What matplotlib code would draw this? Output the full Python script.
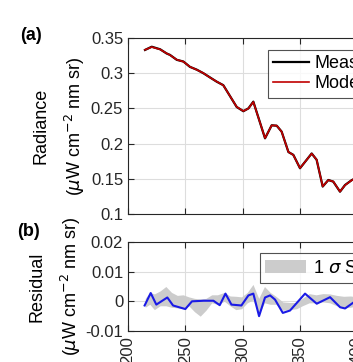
import matplotlib
matplotlib.use("Agg")
import matplotlib.pyplot as plt

plt.rcParams['font.family'] = ['Liberation Sans', 'DejaVu Sans']
plt.rcParams['mathtext.fontset'] = 'dejavusans'

# panel (a): radiance
wl_rad = [214.8, 220.7, 228.0, 233.7, 236.6, 242.5, 248.3, 254.0, 260.0, 265.7, 271.5, 277.3,
          283.1, 294.8, 300.6, 305.0, 309.3, 319.5, 325.3, 329.7, 334.0, 339.9, 344.2, 350.0,
          360.2, 364.5, 369.8, 374.7, 379.0, 384.9, 389.3, 395.0, 400.0]
measured = [0.333, 0.3376, 0.334, 0.328, 0.326, 0.319, 0.3166, 0.309, 0.305, 0.300, 0.294, 0.288,
            0.283, 0.252, 0.246, 0.250, 0.2596, 0.2075, 0.226, 0.2254, 0.217, 0.188, 0.184, 0.165,
            0.186, 0.177, 0.139, 0.1483, 0.146, 0.1317, 0.1412, 0.148, 0.152]
modeled = [0.3332, 0.3372, 0.3338, 0.3282, 0.3258, 0.3192, 0.3164, 0.3092, 0.3048, 0.3002, 0.2938, 0.2882,
           0.2828, 0.2522, 0.2462, 0.2498, 0.2592, 0.2078, 0.2258, 0.2256, 0.2168, 0.1882, 0.1838, 0.1652,
           0.1858, 0.1772, 0.1392, 0.1481, 0.1462, 0.1319, 0.1410, 0.1478, 0.1522]

# panel (b): residual and 1 sigma band
wl_res = [214.5, 219.8, 224.7, 234.3, 239.3, 250.0, 255.8, 266.0, 274.5, 280.0, 285.0, 290.2,
          298.9, 305.0, 309.3, 314.3, 319.5, 323.9, 328.2, 335.0, 341.3, 354.4, 364.6, 376.2,
          385.0, 389.3, 396.6, 400.0]
residual = [-0.0014, 0.0028, -0.0011, 0.0013, -0.0014, -0.0026, 0.0000, 0.0002, 0.0002, -0.0013, 0.0026, -0.0011,
            -0.0014, 0.0020, 0.0026, -0.0050, 0.0013, 0.0020, 0.0006, -0.0039, -0.0031, 0.0026, -0.0008, 0.0014,
            -0.0020, -0.0024, -0.0004, 0.0002]

wl_band = [215, 219, 223, 228, 233, 238, 243, 248, 253, 258, 263, 268, 273, 278, 284, 289, 294, 299,
           304, 309, 314, 319, 324, 329, 335, 341, 347, 352, 358, 364, 370, 376, 382, 388, 394, 400]
band_hi = [0.0010, 0.0030, 0.0025, 0.0035, 0.0050, 0.0030, 0.0020, 0.0022, 0.0015, 0.0010, 0.0008, 0.0010,
           0.0022, 0.0022, 0.0030, 0.0018, 0.0017, 0.0015, 0.0030, 0.0057, 0.0010, 0.0050, 0.0030, 0.0017,
           -0.0002, -0.0004, -0.0004, 0.0010, 0.0026, 0.0022, 0.0026, 0.0025, 0.0020, 0.0017, 0.0018, 0.0015]
band_lo = [-0.0020, -0.0010, -0.0028, -0.0015, -0.0015, -0.0020, -0.0022, -0.0025, -0.0015, -0.0035, -0.0050, -0.0030,
           -0.0005, -0.0010, 0.0000, -0.0015, -0.0028, -0.0025, -0.0005, 0.0005, -0.0044, -0.0005, -0.0010, -0.0010,
           -0.0030, -0.0028, -0.0025, -0.0015, -0.0005, -0.0005, -0.0002, -0.0005, -0.0015, -0.0022, -0.0020, -0.0015]

fig = plt.figure(figsize=(3.53, 3.62), dpi=100)
W, H = 353.0, 362.0
ax1 = fig.add_axes([128 / W, 1 - 214 / H, 344 / W, 176 / H])
ax2 = fig.add_axes([128 / W, 1 - 331 / H, 344 / W, 89 / H])

for ax in (ax1, ax2):
    ax.set_xlim(200, 500)
    ax.set_xticks([200, 250, 300, 350, 400, 450, 500])
    ax.grid(True, color='#dddddd', linewidth=0.8)
    ax.set_axisbelow(True)
    ax.tick_params(direction='in', top=True, right=True, labelsize=12, length=4, width=0.8, colors='#262626')
    for s in ax.spines.values():
        s.set_color('#262626')
        s.set_linewidth(0.8)

ax1.plot(wl_rad, measured, color='black', lw=1.6, label='Measured')
ax1.plot(wl_rad, modeled, color='#c00000', lw=1.2, label='Modeled')
ax1.set_ylim(0.1, 0.35)
ax1.set_yticks([0.1, 0.15, 0.2, 0.25, 0.3, 0.35])
ax1.set_yticklabels(['0.1', '0.15', '0.2', '0.25', '0.3', '0.35'])
ax1.tick_params(labelbottom=False)
ax1.set_ylabel('Radiance\n($\\mu$W cm$^{-2}$ nm sr)', fontsize=13, labelpad=3, linespacing=1.7)
leg1 = ax1.legend(loc='upper left', bbox_to_anchor=(0.406, 0.932), borderaxespad=0,
                  fontsize=13, frameon=True, fancybox=False, edgecolor='#262626',
                  handlelength=2.0, handletextpad=0.3, borderpad=0.3, labelspacing=0.15)
leg1.get_frame().set_linewidth(0.8)

ax2.fill_between(wl_band, band_lo, band_hi, color='#cccccc', lw=0, label='1 $\\sigma$ Spread')
ax2.plot(wl_res, residual, color='#1a1ae6', lw=1.5)
ax2.set_ylim(-0.01, 0.02)
ax2.set_yticks([-0.01, 0, 0.01, 0.02])
ax2.set_yticklabels(['-0.01', '0', '0.01', '0.02'])
ax2.tick_params(axis='x', labelrotation=90)
ax2.set_ylabel('Residual\n($\\mu$W cm$^{-2}$ nm sr)', fontsize=13, labelpad=2, linespacing=1.7)
leg2 = ax2.legend(loc='upper left', bbox_to_anchor=(0.384, 0.876), borderaxespad=0,
                  fontsize=13, frameon=True, fancybox=False, edgecolor='#262626',
                  handlelength=2.3, handletextpad=0.4, borderpad=0.25)
leg2.get_frame().set_linewidth(0.8)

fig.text(20 / W, 1 - 36 / H, '(a)', fontsize=13, fontweight='bold', va='center')
fig.text(17 / W, 1 - 232 / H, '(b)', fontsize=13, fontweight='bold', va='center')

fig.savefig('out.png', dpi=100)
